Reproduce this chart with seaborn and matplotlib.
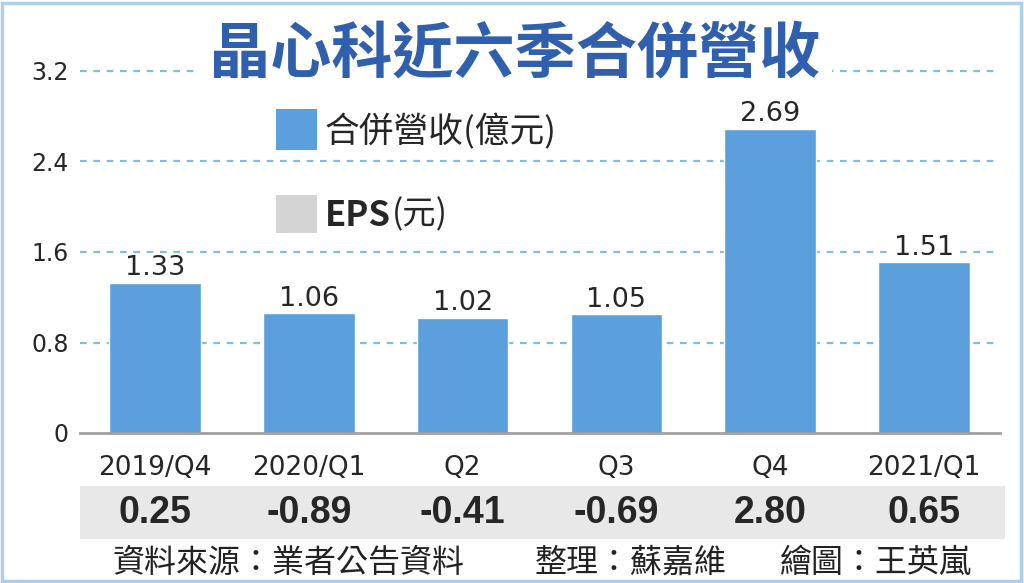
import matplotlib
matplotlib.use("Agg")
import matplotlib.pyplot as plt
import matplotlib.transforms as mtransforms
from matplotlib.patches import Rectangle
import seaborn as sns
import pandas as pd

### chart data
quarters = ["2019/Q4", "2020/Q1", "Q2", "Q3", "Q4", "2021/Q1"]
revenue = [1.33, 1.06, 1.02, 1.05, 2.69, 1.51]   # 合併營收(億元)
eps = [0.25, -0.89, -0.41, -0.69, 2.80, 0.65]      # EPS(元)
y_ticks = [0, 0.8, 1.6, 2.4, 3.2]
y_tick_labels = ["0", "0.8", "1.6", "2.4", "3.2"]

title = "晶心科近六季合併營收"
legend_rev = "合併營收(億元)"
footer = ["資料來源：業者公告資料", "整理：蘇嘉維", "繪圖：王英嵐"]

bar_blue = "#5b9fdc"
grid_blue = "#82bedb"
cjk = ["Noto Sans CJK TC", "DejaVu Sans"]

sns.set_style("white")
plt.rcParams["font.family"] = ["DejaVu Sans", "Noto Sans CJK TC"]

df = pd.DataFrame({"quarter": quarters, "revenue": revenue})

fig = plt.figure(figsize=(10.24, 5.83), dpi=100)
ax = fig.add_axes([80 / 1024, 1 - 433 / 583, 920 / 1024, 362 / 583])

sns.barplot(data=df, x="quarter", y="revenue", color=bar_blue, width=0.595,
            saturation=1, ax=ax, zorder=3)

ax.set_xlim(-0.488, 5.494)
ax.set_ylim(0, 3.2)

# dashed grid lines
for t in y_ticks[1:]:
    ax.axhline(t, color=grid_blue, linestyle=(0, (3, 3)), linewidth=1.6,
               zorder=1, clip_on=False)

ax.set_yticks(y_ticks)
ax.set_yticklabels(y_tick_labels, fontsize=17)
ax.tick_params(axis="y", length=0, pad=8)
ax.tick_params(axis="x", length=7, width=2, color="#a0a0a0", pad=9, labelsize=19)
ax.set_xlabel("")
ax.set_ylabel("")

for side in ["top", "right", "left"]:
    ax.spines[side].set_visible(False)
ax.spines["bottom"].set_color("#a0a0a0")
ax.spines["bottom"].set_linewidth(2)
ax.spines["bottom"].set_zorder(4)

# value labels with white box over grid
for c in ax.containers:
    labels = ax.bar_label(c, fmt="%.2f", padding=1, fontsize=19.5, zorder=5)
    for lb in labels:
        lb.set_bbox(dict(facecolor="white", edgecolor="none", pad=1))

# EPS band, drawn in the axes so the values sit on top of it
band = Rectangle((80 / 1024, 1 - 539 / 583), 925 / 1024, 53 / 583,
                 transform=fig.transFigure, facecolor="#e8e8e8",
                 edgecolor="none", zorder=0, clip_on=False)
ax.add_artist(band)
trans = mtransforms.blended_transform_factory(ax.transData, fig.transFigure)
for i, v in enumerate(eps):
    ax.text(i, 1 - 513 / 583, "%.2f" % v, transform=trans, ha="center", va="center",
            fontsize=27, fontweight="bold", family=["Liberation Sans", "DejaVu Sans"],
            clip_on=False, zorder=6)

# title
fig.text(0.503, 1 - 55 / 583, title, ha="center", va="center", fontsize=44,
         fontweight="bold", color="#3060ad", family=cjk,
         bbox=dict(facecolor="white", edgecolor="none", pad=8))

# legend
fig.patches.append(Rectangle((276 / 1024, 1 - 150 / 583), 41 / 1024, 41 / 583,
                             transform=fig.transFigure, facecolor=bar_blue,
                             edgecolor="none"))
fig.patches.append(Rectangle((276 / 1024, 1 - 233 / 583), 41 / 1024, 38 / 583,
                             transform=fig.transFigure, facecolor="#d4d4d4",
                             edgecolor="none"))
fig.text(325 / 1024, 1 - 132 / 583, legend_rev, ha="left", va="center",
         fontsize=25, family=cjk)
fig.text(325 / 1024, 1 - 215 / 583, "EPS", ha="left", va="center",
         fontsize=25, fontweight="bold", family=cjk)
fig.text(392 / 1024, 1 - 215 / 583, "(元)", ha="left", va="center",
         fontsize=24, family=cjk)

# footer
for x, s in zip([112, 535, 780], footer):
    fig.text(x / 1024, 1 - 563 / 583, s, ha="left", va="center",
             fontsize=23, family=cjk, color="#222222")

# light blue frame
fig.patches.append(Rectangle((0.002, 0.004), 0.995, 0.99, transform=fig.transFigure,
                             facecolor="none", edgecolor="#acd0ec", linewidth=2.5))

fig.savefig("out.png", dpi=100)
